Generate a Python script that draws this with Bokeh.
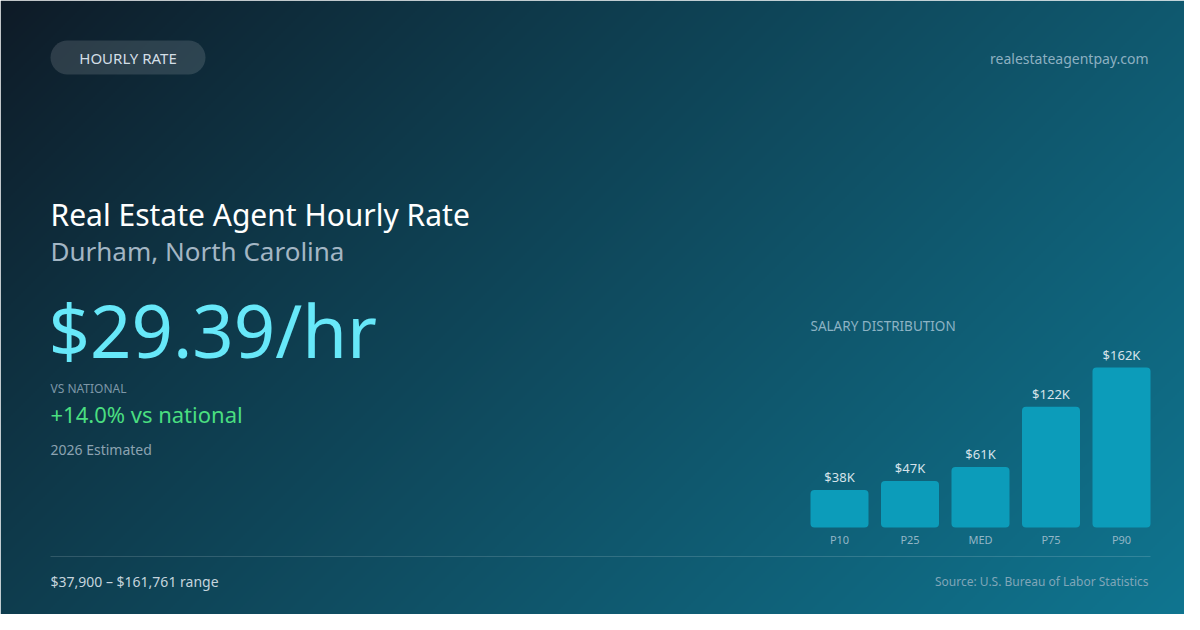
import numpy as np
from bokeh.plotting import figure
from bokeh.models import Range1d, ColumnDataSource
from bokeh.core.properties import value
from bokeh.embed import file_html
from bokeh.resources import INLINE

# ---- data ----
categories = ["P10", "P25", "MED", "P75", "P90"]
salaries = [37900, 47000, 61131, 122000, 161761]
salary_labels = ["$38K", "$47K", "$61K", "$122K", "$162K"]
badge = "HOURLY RATE"
site = "realestateagentpay.com"
title = "Real Estate Agent Hourly Rate"
subtitle = "Durham, North Carolina"
headline = "$29.39/hr"
vs_label = "VS NATIONAL"
vs_text = "+14.0% vs national"
est_text = "2026 Estimated"
dist_title = "SALARY DISTRIBUTION"
range_text = "$37,900 – $161,761 range"
source_text = "Source: U.S. Bureau of Labor Statistics"

FONT = value("Noto Sans")
W, H = 1200, 630
PW, PH = 1184, 614

p = figure(width=PW, height=PH, x_range=Range1d(0, PW), y_range=Range1d(PH, 0),
           output_backend="svg", toolbar_location=None, min_border=0)
p.axis.visible = False
p.grid.visible = False
p.outline_line_color = None
p.background_fill_color = None
p.border_fill_color = "#0f3a4d"

# ---- background gradient ----
gh, gw = 315, 600
yy, xx = np.mgrid[0:gh, 0:gw]
t = ((xx + 0.5) * (W / gw) + (yy + 0.5) * (H / gh)) / (W + H)
t = t ** 0.9
c0 = np.array([14, 26, 38])
c1 = np.array([16, 119, 146])
rgb = (c0[None, None, :] + (c1 - c0)[None, None, :] * t[..., None]).astype(np.uint32)
img = (255 << 24) | (rgb[..., 2] << 16) | (rgb[..., 1] << 8) | rgb[..., 0]
p.image_rgba(image=[img.astype(np.uint32)], x=0, y=0, dw=W, dh=H)

# ---- header ----
p.quad(left=50, right=205, top=40, bottom=74, fill_color="white", fill_alpha=0.13,
       line_color=None, border_radius=17)
p.text(x=127.5, y=57.5, text=[badge], text_font=FONT, text_font_size="15px",
       text_color="#d3dee6", text_align="center", text_baseline="middle")
p.text(x=1148, y=58, text=[site], text_font=FONT, text_font_size="14px",
       text_color="#8db0c1", text_align="right", text_baseline="middle")

# ---- left text block ----
p.text(x=50, y=214, text=[title], text_font=FONT, text_font_size="30px",
       text_color="#ffffff", text_align="left", text_baseline="middle")
p.text(x=50, y=250, text=[subtitle], text_font=FONT, text_font_size="26px",
       text_color="#a3b6c4", text_align="left", text_baseline="middle")
p.text(x=48, y=329, text=[headline], text_font=FONT, text_font_size="72.5px",
       text_color="#67e8f9", text_align="left", text_baseline="middle")
p.text(x=50, y=388, text=[vs_label], text_font=FONT, text_font_size="12px",
       text_color="#7d97a7", text_align="left", text_baseline="middle")
p.text(x=50, y=413, text=[vs_text], text_font=FONT, text_font_size="22px",
       text_color="#4ade80", text_align="left", text_baseline="middle")
p.text(x=50, y=449, text=[est_text], text_font=FONT, text_font_size="14px",
       text_color="#8ca3b1", text_align="left", text_baseline="middle")

# ---- bar chart (own scales) ----
k = 160 / 161761.0
p.extra_x_ranges = {"bars": Range1d(start=(0 - 839) / 70.5, end=(PW - 839) / 70.5)}
p.extra_y_ranges = {"bars": Range1d(start=(527 - PH) / k, end=527 / k)}
src = ColumnDataSource(dict(x=list(range(len(categories))), top=salaries,
                            cat=categories, lab=salary_labels))
p.vbar(x="x", top="top", bottom=0, width=58 / 70.5, source=src,
       x_range_name="bars", y_range_name="bars",
       fill_color="#0c9cba", line_color=None, border_radius=4)
p.text(x="x", y="top", text="lab", source=src, x_range_name="bars", y_range_name="bars",
       y_offset=-13, text_font=FONT, text_font_size="13px", text_color="#d6e3ea",
       text_align="center", text_baseline="middle")
p.text(x="x", y=0, text="cat", source=src, x_range_name="bars", y_range_name="bars",
       y_offset=12, text_font=FONT, text_font_size="11px", text_color="#93b6c6",
       text_align="center", text_baseline="middle")
p.text(x=810, y=325, text=[dist_title], text_font=FONT, text_font_size="13.5px",
       text_color="#8db3c4", text_align="left", text_baseline="middle")

# ---- footer ----
p.segment(x0=50, x1=1150, y0=556, y1=556, line_color="white", line_alpha=0.15, line_width=1)
p.text(x=50, y=581, text=[range_text], text_font=FONT, text_font_size="14px",
       text_color="#c5d4dd", text_align="left", text_baseline="middle")
p.text(x=1148, y=581, text=[source_text], text_font=FONT, text_font_size="12px",
       text_color="#80a6b8", text_align="right", text_baseline="middle")

open("out.html", "w").write(file_html(p, INLINE))
